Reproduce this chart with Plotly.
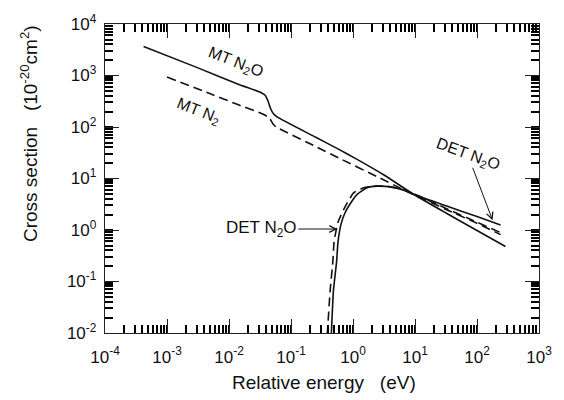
import math
import plotly.graph_objects as go

# ---------------- data ----------------
mt_n2o_energy = [4.19e-4, 3.16e-3, 0.0141, 0.0331, 0.0380, 0.0427, 0.0468, 0.0525, 0.0603,
                 0.251, 0.562, 1.164, 3.16, 9.33, 31.6, 100.0, 288.0]
mt_n2o_xs = [3648, 1406, 676, 464, 417, 316, 229, 178, 155,
             63.1, 38.0, 23.5, 11.7, 5.01, 2.14, 0.977, 0.479]

mt_n2_energy = [0.001, 0.00501, 0.01422, 0.03556, 0.04169, 0.04603, 0.05129, 0.05741, 0.06607,
                0.2512, 0.631, 2.512, 6.546, 9.333, 31.62, 100.0, 239.9]
mt_n2_xs = [935, 441.6, 269.2, 177.0, 158.5, 141.9, 114.8, 100.0, 91.2,
            41.7, 24.0, 10.7, 6.04, 5.01, 2.51, 1.349, 0.813]

det_n2o_energy = [0.4355, 0.4487, 0.4831, 0.5445, 0.5728, 0.6471, 0.7413, 0.8590, 1.164,
                  1.683, 2.427, 3.963, 6.471, 9.354, 31.62, 100.0, 239.9]
det_n2o_xs = [0.005, 0.01047, 0.0659, 0.2455, 0.590, 1.358, 2.138, 2.951, 4.920,
              6.592, 7.096, 6.887, 5.957, 4.920, 2.951, 1.820, 1.245]

det_n2_energy = [0.3758, 0.3873, 0.4276, 0.4732, 0.4955, 0.5728, 0.7586, 1.030, 1.489,
                 2.148, 3.508, 5.715, 9.354, 31.62, 100.0, 239.9]
det_n2_xs = [0.005, 0.01047, 0.0659, 0.2455, 0.590, 1.419, 2.951, 5.297, 6.592,
             7.096, 7.096, 6.310, 5.129, 2.630, 1.413, 0.891]

x_tick_vals = [1e-4, 1e-3, 1e-2, 1e-1, 1e0, 1e1, 1e2, 1e3]
x_tick_text = ["10<sup>-4</sup>", "10<sup>-3</sup>", "10<sup>-2</sup>", "10<sup>-1</sup>",
               "10<sup>0</sup>", "10<sup>1</sup>", "10<sup>2</sup>", "10<sup>3</sup>"]
y_tick_vals = [1e-2, 1e-1, 1e0, 1e1, 1e2, 1e3, 1e4]
y_tick_text = ["10<sup>-2</sup>", "10<sup>-1</sup>", "10<sup>0</sup>", "10<sup>1</sup>",
               "10<sup>2</sup>", "10<sup>3</sup>", "10<sup>4</sup>"]

# ---------------- figure ----------------
FONT = "Liberation Sans, Arial, sans-serif"
INK = "#111111"
TICK = "#000000"

fig = go.Figure()

def add_curve(x, y, dash):
    fig.add_trace(go.Scatter(
        x=x, y=y, mode="lines",
        line=dict(color=INK, width=1.6, dash=dash, shape="spline", smoothing=0.5),
        showlegend=False, hoverinfo="skip"))

add_curve(mt_n2o_energy, mt_n2o_xs, "solid")
add_curve(mt_n2_energy, mt_n2_xs, "9px,5px")
add_curve(det_n2o_energy, det_n2o_xs, "solid")
add_curve(det_n2_energy, det_n2_xs, "9px,5px")

def all_ticks(majors, labels):
    """major decades labelled, 2..9 within each decade unlabelled"""
    vals, text = [], []
    for i, m in enumerate(majors):
        vals.append(m)
        text.append(labels[i])
        if i < len(majors) - 1:
            for k in range(2, 10):
                vals.append(m * k)
                text.append("")
    return vals, text

xv, xt = all_ticks(x_tick_vals, x_tick_text)
yv, yt = all_ticks(y_tick_vals, y_tick_text)

X_RANGE = [math.log10(x_tick_vals[0]), math.log10(x_tick_vals[-1])]
Y_RANGE = [math.log10(y_tick_vals[0]), math.log10(y_tick_vals[-1])]

main_common = dict(
    type="log",
    showgrid=False, zeroline=False,
    showline=True, linecolor="#222222", linewidth=1.4,
    mirror="allticks",
    tickmode="array",
    ticks="inside", ticklen=8, tickwidth=1.6, tickcolor=TICK,
    tickfont=dict(family=FONT, size=17, color=INK),
)

# overlay axes (linear, in decades) that carry the longer decade ticks
over_common = dict(
    type="linear",
    showgrid=False, zeroline=False, showline=False,
    mirror="allticks",
    tickmode="array",
    ticks="inside", ticklen=14, tickwidth=1.3, tickcolor="#222222",
    showticklabels=False,
)

fig.add_trace(go.Scatter(x=[X_RANGE[0] - 5], y=[Y_RANGE[0] - 5], xaxis="x2", yaxis="y2",
                         mode="markers", marker=dict(size=1, color="white"),
                         showlegend=False, hoverinfo="skip"))

fig.update_layout(
    xaxis=dict(range=X_RANGE, tickvals=xv, ticktext=xt, ticklabelstandoff=8, **main_common),
    yaxis=dict(range=Y_RANGE, tickvals=yv, ticktext=yt, ticklabelstandoff=4, **main_common),
    xaxis2=dict(range=X_RANGE, tickvals=[math.log10(v) for v in x_tick_vals],
                overlaying="x", anchor="y", side="bottom", **over_common),
    yaxis2=dict(range=Y_RANGE, tickvals=[math.log10(v) for v in y_tick_vals],
                overlaying="y", anchor="x", side="left", **over_common),
)

lab_font = dict(family=FONT, size=16, color=INK)
annotations = [
    # curve labels (positions in log10 units on log axes)
    dict(x=-1.895, y=3.257, xref="x", yref="y", text="MT N<sub>2</sub>O",
         showarrow=False, textangle=21.5, font=lab_font),
    dict(x=-2.485, y=2.305, xref="x", yref="y", text="MT N<sub>2</sub>",
         showarrow=False, textangle=21.5, font=lab_font),
    dict(x=-0.253, y=0.019, xref="x", yref="y", text="DET N<sub>2</sub>O",
         showarrow=True, ax=-76, ay=0, arrowhead=5, arrowsize=1.3, arrowwidth=1,
         arrowcolor=INK, standoff=0, font=dict(family=FONT, size=17, color=INK)),
    dict(x=2.251, y=0.190, xref="x", yref="y", text="DET N<sub>2</sub>O",
         showarrow=True, ax=-25, ay=-66, arrowhead=5, arrowsize=1.3, arrowwidth=1,
         arrowcolor=INK, standoff=0, textangle=20, font=lab_font),
    # axis titles
    dict(x=0.505, y=-0.159, xref="paper", yref="paper",
         text="Relative energy\u00a0\u00a0\u00a0(eV)", showarrow=False,
         xanchor="center", yanchor="middle", font=dict(family=FONT, size=19, color=INK)),
    dict(x=-0.175, y=0.644, xref="paper", yref="paper",
         text="Cross section\u00a0\u00a0\u00a0(10<sup>-20</sup>cm<sup>2</sup>)", showarrow=False,
         textangle=-90, xanchor="center", yanchor="middle",
         font=dict(family=FONT, size=19, color=INK)),
]

fig.update_layout(
    width=564, height=400,
    margin=dict(l=105, r=20, t=18, b=67),
    paper_bgcolor="white", plot_bgcolor="white",
    annotations=annotations,
    showlegend=False,
)

fig.write_html("out.html")
